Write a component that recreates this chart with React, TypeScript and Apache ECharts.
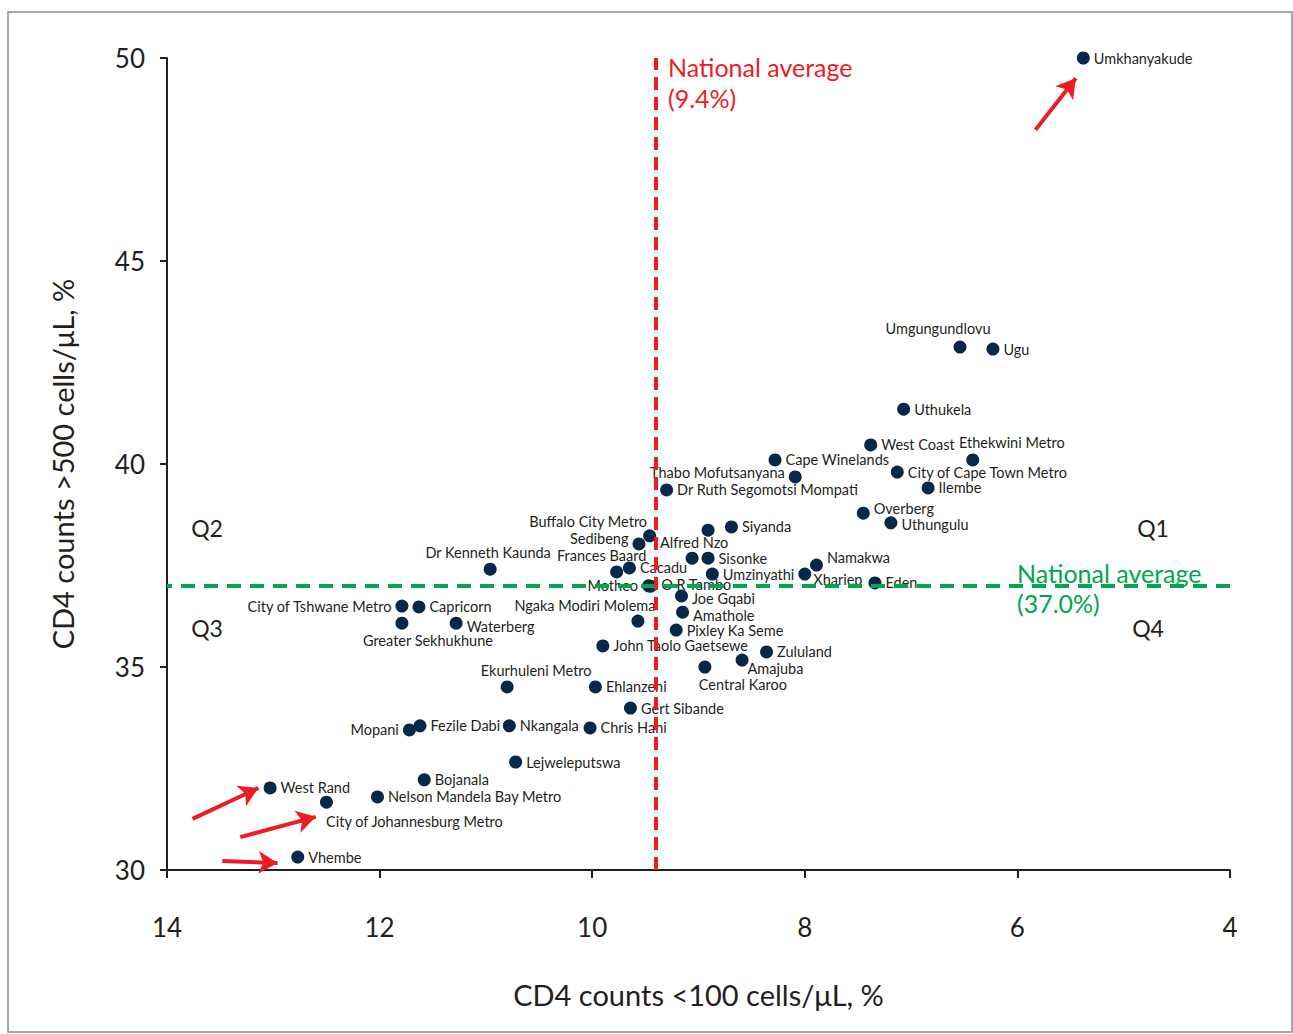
import React, { useEffect, useRef } from "react";
import * as echarts from "echarts";

// ---- data ----
const districtNames = [
  "Umkhanyakude", "Umgungundlovu", "Ugu", "Uthukela", "West Coast", "Ethekwini Metro",
  "Cape Winelands", "Thabo Mofutsanyana", "City of Cape Town Metro", "Ilembe",
  "Dr Ruth Segomotsi Mompati", "Overberg", "Uthungulu", "Siyanda", "",
  "Buffalo City Metro", "Sedibeng", "Alfred Nzo", "Sisonke", "Dr Kenneth Kaunda",
  "Frances Baard", "Cacadu", "Namakwa", "Umzinyathi", "Xhariep", "Eden", "Motheo",
  "O R Tambo", "Joe Gqabi", "Amathole", "City of Tshwane Metro", "Capricorn",
  "Greater Sekhukhune", "Waterberg", "Ngaka Modiri Molema", "Pixley Ka Seme",
  "John Taolo Gaetsewe", "Zululand", "Amajuba", "Central Karoo", "Ekurhuleni Metro",
  "Ehlanzeni", "Gert Sibande", "Mopani", "Fezile Dabi", "Nkangala", "Chris Hani",
  "Lejweleputswa", "West Rand", "Bojanala", "Nelson Mandela Bay Metro",
  "City of Johannesburg Metro", "Vhembe",
];
// CD4 counts <100 cells/μL, %
const pctBelow100 = [
  5.38, 6.54, 6.23, 7.07, 7.38, 6.42,
  8.28, 8.09, 7.13, 6.84,
  9.30, 7.45, 7.19, 8.69, 8.91,
  9.46, 9.56, 9.06, 8.91, 10.96,
  9.77, 9.65, 7.89, 8.87, 8.00, 7.34, 9.47,
  9.45, 9.16, 9.15, 11.79, 11.63,
  11.79, 11.28, 9.57, 9.21,
  9.90, 8.36, 8.59, 8.94, 10.80,
  9.97, 9.64, 11.72, 11.62, 10.78, 10.02,
  10.72, 13.03, 11.58, 12.02,
  12.50, 12.77,
];
// CD4 counts >500 cells/μL, %
const pctAbove500 = [
  50.0, 42.88, 42.83, 41.35, 40.47, 40.10,
  40.10, 39.68, 39.80, 39.41,
  39.36, 38.79, 38.55, 38.45, 38.37,
  38.23, 38.03, 37.68, 37.68, 37.41,
  37.34, 37.44, 37.51, 37.29, 37.29, 37.07, 37.0,
  36.99, 36.75, 36.35, 36.50, 36.48,
  36.08, 36.08, 36.13, 35.91,
  35.52, 35.37, 35.17, 35.0, 34.51,
  34.51, 33.99, 33.45, 33.55, 33.55, 33.50,
  32.66, 32.02, 32.22, 31.80,
  31.67, 30.32,
];
const nationalAvgBelow100 = 9.4;
const nationalAvgAbove500 = 37.0;
const xTicks = [14, 12, 10, 8, 6, 4];
const yTicks = [30, 35, 40, 45, 50];
// annotation arrows in data units
const arrowFrom = [[5.83, 48.23], [13.76, 31.26], [13.31, 30.81], [13.48, 30.22]];
const arrowTo = [[5.45, 49.5], [13.14, 32.02], [12.6, 31.31], [12.96, 30.17]];

// ---- label placement (style, not data) ----
const labelPlacement: Record<string, [string, number, number]> = {
  "Umgungundlovu": ["top", -22, -2],
  "Ethekwini Metro": ["top", 39, 0],
  "Thabo Mofutsanyana": ["left", 0, -4],
  "Overberg": ["right", 0, -5],
  "Uthungulu": ["right", 0, 2],
  "Buffalo City Metro": ["left", 8, -14],
  "Sedibeng": ["left", 0, -5],
  "Alfred Nzo": ["top", 2, 1],
  "Frances Baard": ["top", -15, 1],
  "Dr Kenneth Kaunda": ["top", -2, 0],
  "Namakwa": ["right", 0, -8],
  "Xhariep": ["right", -2, 5],
  "Motheo": ["left", 0, 0],
  "O R Tambo": ["right", 0, -2],
  "Joe Gqabi": ["right", 0, 3],
  "Amathole": ["right", 0, 3],
  "City of Tshwane Metro": ["left", 0, 0],
  "Greater Sekhukhune": ["bottom", 26, 0],
  "Waterberg": ["right", 0, 3],
  "Ngaka Modiri Molema": ["top", -53, 1],
  "Amajuba": ["right", -5, 8],
  "Central Karoo": ["bottom", 38, 0],
  "Ekurhuleni Metro": ["top", 29, 1],
  "Mopani": ["left", 0, 0],
  "City of Johannesburg Metro": ["bottom", 88, 2],
};

const FONT = "Lato";
const INK = "#231f20";
const RED = "#ed1c24";
const GREEN = "#00a650";
const DOT = "#08284a";

export default function App() {
  const ref = useRef<HTMLDivElement>(null);
  useEffect(() => {
    if (!ref.current) return;
    const chart = echarts.init(ref.current, undefined, { renderer: "svg" });

    const points = districtNames.map((name, i) => {
      const pl = labelPlacement[name] || ["right", 0, 0];
      return {
        name,
        value: [pctBelow100[i], pctAbove500[i]],
        label: {
          show: name !== "",
          position: pl[0],
          offset: [pl[1], pl[2]],
        },
      };
    });

    const arrows = arrowFrom.map((f, i) => [
      { coord: f },
      { coord: arrowTo[i] },
    ]);

    chart.setOption({
      animation: false,
      grid: { left: 167, right: 63, top: 58, bottom: 164, containLabel: false },
      xAxis: {
        type: "value",
        inverse: true,
        min: xTicks[xTicks.length - 1],
        max: xTicks[0],
        interval: 2,
        name: "CD4 counts <100 cells/μL, %",
        nameLocation: "middle",
        nameGap: 110,
        nameTextStyle: { fontSize: 29, color: INK, fontFamily: FONT },
        axisLine: { show: true, lineStyle: { color: INK, width: 2 } },
        axisTick: { show: true, length: 8, lineStyle: { color: INK, width: 2 } },
        axisLabel: { fontSize: 26, color: INK, margin: 44, fontFamily: FONT },
        splitLine: { show: false },
      },
      yAxis: {
        type: "value",
        min: yTicks[0],
        max: yTicks[yTicks.length - 1],
        interval: 5,
        name: "CD4 counts >500 cells/μL, %",
        nameLocation: "middle",
        nameGap: 90,
        nameTextStyle: { fontSize: 29, color: INK, fontFamily: FONT },
        axisLine: { show: true, lineStyle: { color: INK, width: 2 } },
        axisTick: { show: true, length: 7, lineStyle: { color: INK, width: 2 } },
        axisLabel: { fontSize: 26, color: INK, margin: 22, fontFamily: FONT, padding: [8, 0, 0, 0] },
        splitLine: { show: false },
      },
      series: [
        {
          type: "scatter",
          symbol: "circle",
          symbolSize: 13,
          itemStyle: { color: DOT, opacity: 1 },
          label: {
            show: true,
            formatter: "{b}",
            fontSize: 14.5,
            lineHeight: 13,
            color: INK,
            fontFamily: FONT,
            distance: 4,
          },
          data: points,
          markLine: {
            silent: true,
            symbol: ["none", "none"],
            label: { show: false },
            data: [
              { xAxis: nationalAvgBelow100, lineStyle: { color: RED, width: 4, type: [13, 7] } },
              { yAxis: nationalAvgAbove500, lineStyle: { color: GREEN, width: 4, type: [14, 9] } },
            ],
          },
          z: 3,
        },
        {
          type: "scatter",
          data: [],
          markLine: {
            silent: true,
            symbol: ["none", "arrow"],
            symbolSize: [17, 19],
            label: { show: false },
            lineStyle: { color: RED, width: 4, type: "solid" },
            data: arrows,
          },
        },
      ],
      graphic: [
        {
          type: "rect",
          shape: { x: 8, y: 12, width: 1284, height: 1020 },
          style: { fill: "none", stroke: "#8a8a8a", lineWidth: 1.5 },
          silent: true,
        },
        {
          type: "text", x: 668, y: 67,
          style: { text: "National average", fill: RED, fontSize: 25, fontFamily: FONT, verticalAlign: "middle" },
        },
        {
          type: "text", x: 668, y: 98,
          style: { text: "(9.4%)", fill: RED, fontSize: 25, fontFamily: FONT, verticalAlign: "middle" },
        },
        {
          type: "text", x: 1017, y: 573,
          style: { text: "National average", fill: GREEN, fontSize: 25, fontFamily: FONT, verticalAlign: "middle" },
        },
        {
          type: "text", x: 1017, y: 603,
          style: { text: "(37.0%)", fill: GREEN, fontSize: 25, fontFamily: FONT, verticalAlign: "middle" },
        },
        { type: "text", x: 1153, y: 528, style: { text: "Q1", fill: INK, fontSize: 23, fontFamily: FONT, align: "center", verticalAlign: "middle" } },
        { type: "text", x: 207, y: 528, style: { text: "Q2", fill: INK, fontSize: 23, fontFamily: FONT, align: "center", verticalAlign: "middle" } },
        { type: "text", x: 207, y: 628, style: { text: "Q3", fill: INK, fontSize: 23, fontFamily: FONT, align: "center", verticalAlign: "middle" } },
        { type: "text", x: 1148, y: 628, style: { text: "Q4", fill: INK, fontSize: 23, fontFamily: FONT, align: "center", verticalAlign: "middle" } },
      ],
    });
    return () => chart.dispose();
  }, []);

  return (
    <div
      ref={ref}
      style={{ position: "absolute", left: 0, top: 0, width: 1293, height: 1034, background: "#fff" }}
    />
  );
}
